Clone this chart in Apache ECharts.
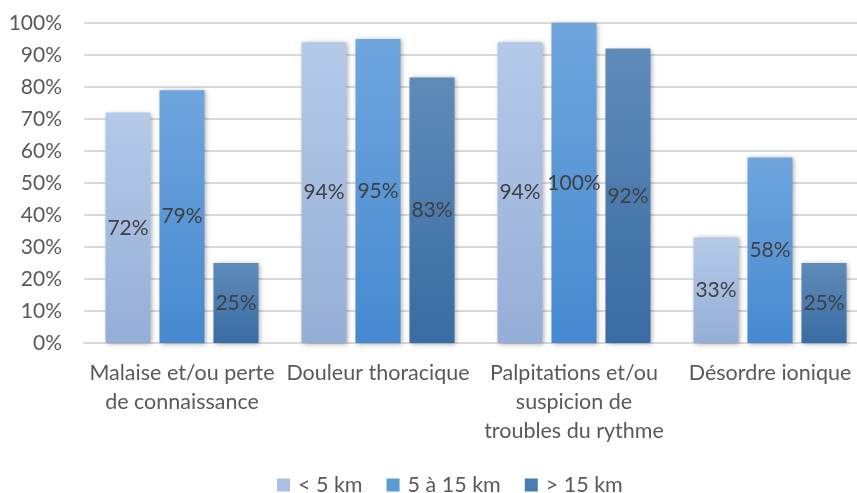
<!DOCTYPE html>
<html>
<head>
<meta charset="utf-8">
<script src="https://cdn.jsdelivr.net/npm/echarts@6/dist/echarts.min.js"></script>
<style>
  html, body { margin: 0; padding: 0; background: #fff; }
  #chart { width: 857px; height: 493px; }
</style>
</head>
<body>
<div id="chart"></div>
<script>
// categories (x axis)
const categories = [
  'Malaise et/ou perte\nde connaissance',
  'Douleur thoracique',
  'Palpitations et/ou\nsuspicion de\ntroubles du rythme',
  'Désordre ionique'
]
// series values in %
const seriesNames = ['< 5 km', '5 à 15 km', '> 15 km']
const lessThan5 = [72, 94, 94, 33]
const from5to15 = [79, 95, 100, 58]
const moreThan15 = [25, 83, 92, 25]

const fontFamily = 'Lato, "Open Sans", sans-serif'

function grad(top, bottom) {
  return new echarts.graphic.LinearGradient(0, 0, 0, 1, [
    { offset: 0, color: top },
    { offset: 1, color: bottom }
  ])
}

const colors = [
  grad('#b5cae9', '#95aed7'),
  grad('#6fa5dd', '#4689d0'),
  grad('#5f8bb9', '#386ca4')
]
const legendColors = ['#a9c0e4', '#5b9bd5', '#4a7cb0']

function makeSeries(name, data, i) {
  return {
    name: name,
    type: 'bar',
    data: data,
    barWidth: 45,
    barGap: '20%',
    itemStyle: {
      color: colors[i],
      shadowBlur: 5,
      shadowColor: 'rgba(0,0,0,0.35)',
      shadowOffsetX: 1,
      shadowOffsetY: 1
    },
    label: {
      show: true,
      position: 'inside',
      formatter: '{c}%',
      color: '#404040',
      fontSize: 21,
      fontFamily: fontFamily
    }
  }
}

const chart = echarts.init(document.getElementById('chart'))
chart.setOption({
  animation: false,
  color: legendColors,
  grid: {
    left: 84,
    width: 784,
    top: 23,
    bottom: 150,
    containLabel: false,
    outerBoundsMode: 'none'
  },
  legend: {
    top: 469,
    left: 272,
    itemWidth: 13,
    itemHeight: 13,
    itemGap: 24,
    icon: 'rect',
    textStyle: { color: '#595959', fontSize: 21.5, fontFamily: fontFamily, padding: [0, 0, 0, 3] },
    data: seriesNames.map((n, i) => ({ name: n, itemStyle: { color: legendColors[i] } }))
  },
  xAxis: {
    type: 'category',
    data: categories,
    axisTick: { show: false },
    axisLine: { lineStyle: { color: '#d9d9d9', width: 2 } },
    axisLabel: {
      color: '#595959',
      fontSize: 21.5,
      fontFamily: fontFamily,
      lineHeight: 29,
      margin: 16,
      interval: 0
    }
  },
  yAxis: {
    type: 'value',
    min: 0,
    max: 100,
    interval: 10,
    axisLine: { show: false },
    axisTick: { show: false },
    splitLine: { lineStyle: { color: '#d9d9d9', width: 2 } },
    axisLabel: {
      formatter: '{value}%',
      color: '#595959',
      fontSize: 21,
      fontFamily: fontFamily,
      margin: 22
    }
  },
  series: [
    makeSeries(seriesNames[0], lessThan5, 0),
    makeSeries(seriesNames[1], from5to15, 1),
    makeSeries(seriesNames[2], moreThan15, 2)
  ]
})
</script>
</body>
</html>
